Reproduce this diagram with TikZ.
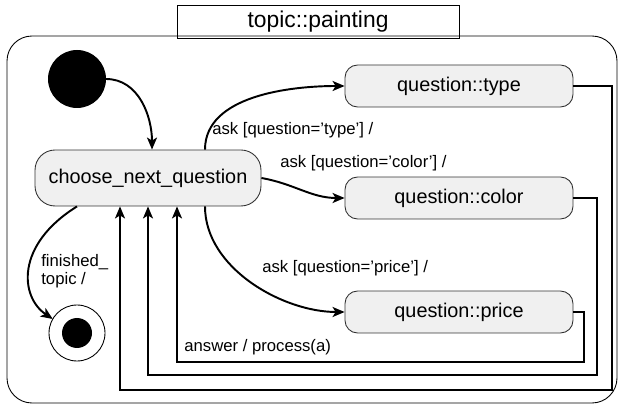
\documentclass[tikz,border=0pt]{standalone}
\usepackage{fontspec}
\setmainfont{Liberation Sans}
\usetikzlibrary{arrows.meta,calc}

\tikzset{
	state/.style={draw=black!80, fill=black!6, line width=0.5pt, minimum width=4.56cm, minimum height=0.84cm, rounded corners=0.25cm, font=\fontsize{11.3}{13}\selectfont},
	flow/.style={line width=1.1pt, -{Stealth[length=0.24cm, width=0.2cm, inset=0.06cm]}},
	lbl/.style={anchor=west, inner sep=0pt, font=\fontsize{9.5}{10.4}\selectfont}
}

\begin{document}
\begin{tikzpicture}[x=0.02cm, y=0.02cm]
		%%%%% START %%%%%
		\useasboundingbox (0, 0) rectangle (624, 405);
		
		% composite state frame and its name tab
		\draw[line width=0.5pt, rounded corners=0.5cm] (7, 369) rectangle (617, 2);
		\node[draw, line width=0.5pt, minimum width=5.64cm, minimum height=0.56cm, font=\fontsize{13}{15}\selectfont] (tab) at (318, 383) {topic::painting};
		
		% pseudo states
		\fill (77, 326) circle (29);
		\coordinate (init) at (77, 326);
		\draw[line width=0.5pt] (77, 72) circle (28);
		\fill (77, 72) circle (15);
		\coordinate (final) at (77, 72);
		
		% states
		\node[state, minimum width=4.52cm, minimum height=1.12cm, rounded corners=0.4cm] (choose) at (148, 227) {choose\_next\_question};
		\node[state] (type) at (459, 319) {question::type};
		\node[state] (color) at (459, 207) {question::color};
		\node[state] (price) at (459, 93) {question::price};
		
		% outgoing transitions
		\draw[flow] ([xshift=0.58cm]init) to[out=0, in=90] ($(choose.north)+(4, 0)$);
		\draw[flow] ($(choose.north)+(57, 0)$) to[out=90, in=180, looseness=0.9] (type.west);
		\draw[flow] (choose.east) to[out=-10, in=180] (color.west);
		\draw[flow] ($(choose.south)+(57, 0)$) to[out=-90, in=180, looseness=0.9] (price.west);
		\draw[flow] ($(choose.south)+(-71, 0)$) .. controls (15, 160) and (20, 108) .. ($(final)+(150:28)$);
		
		\node[lbl] (asktype) at (212, 275) {ask [question=’type’] /};
		\node[lbl] (askcolor) at (280, 242) {ask [question=’color’] /};
		\node[lbl] (askprice) at (262, 137) {ask [question=’price’] /};
		\node[lbl, align=left] (done) at (41, 134) {finished\_\\topic /};
		
		% answers go back to the chooser
		\coordinate (pricebend) at (584, 43);
		\coordinate (colorbend) at (597, 30);
		\coordinate (typebend) at (612, 15);
		\draw[flow] (price.east) -| (pricebend) -| ($(choose.south)+(29, 0)$);
		\draw[flow] (color.east) -| (colorbend) -| (choose.south);
		\draw[flow] (type.east) -| (typebend) -| ($(choose.south)+(-28, 0)$);
		
		\node[lbl] (answer) at (184, 58) {answer / process(a)};
		
		%%%%% END %%%%%
\end{tikzpicture}
\end{document}
